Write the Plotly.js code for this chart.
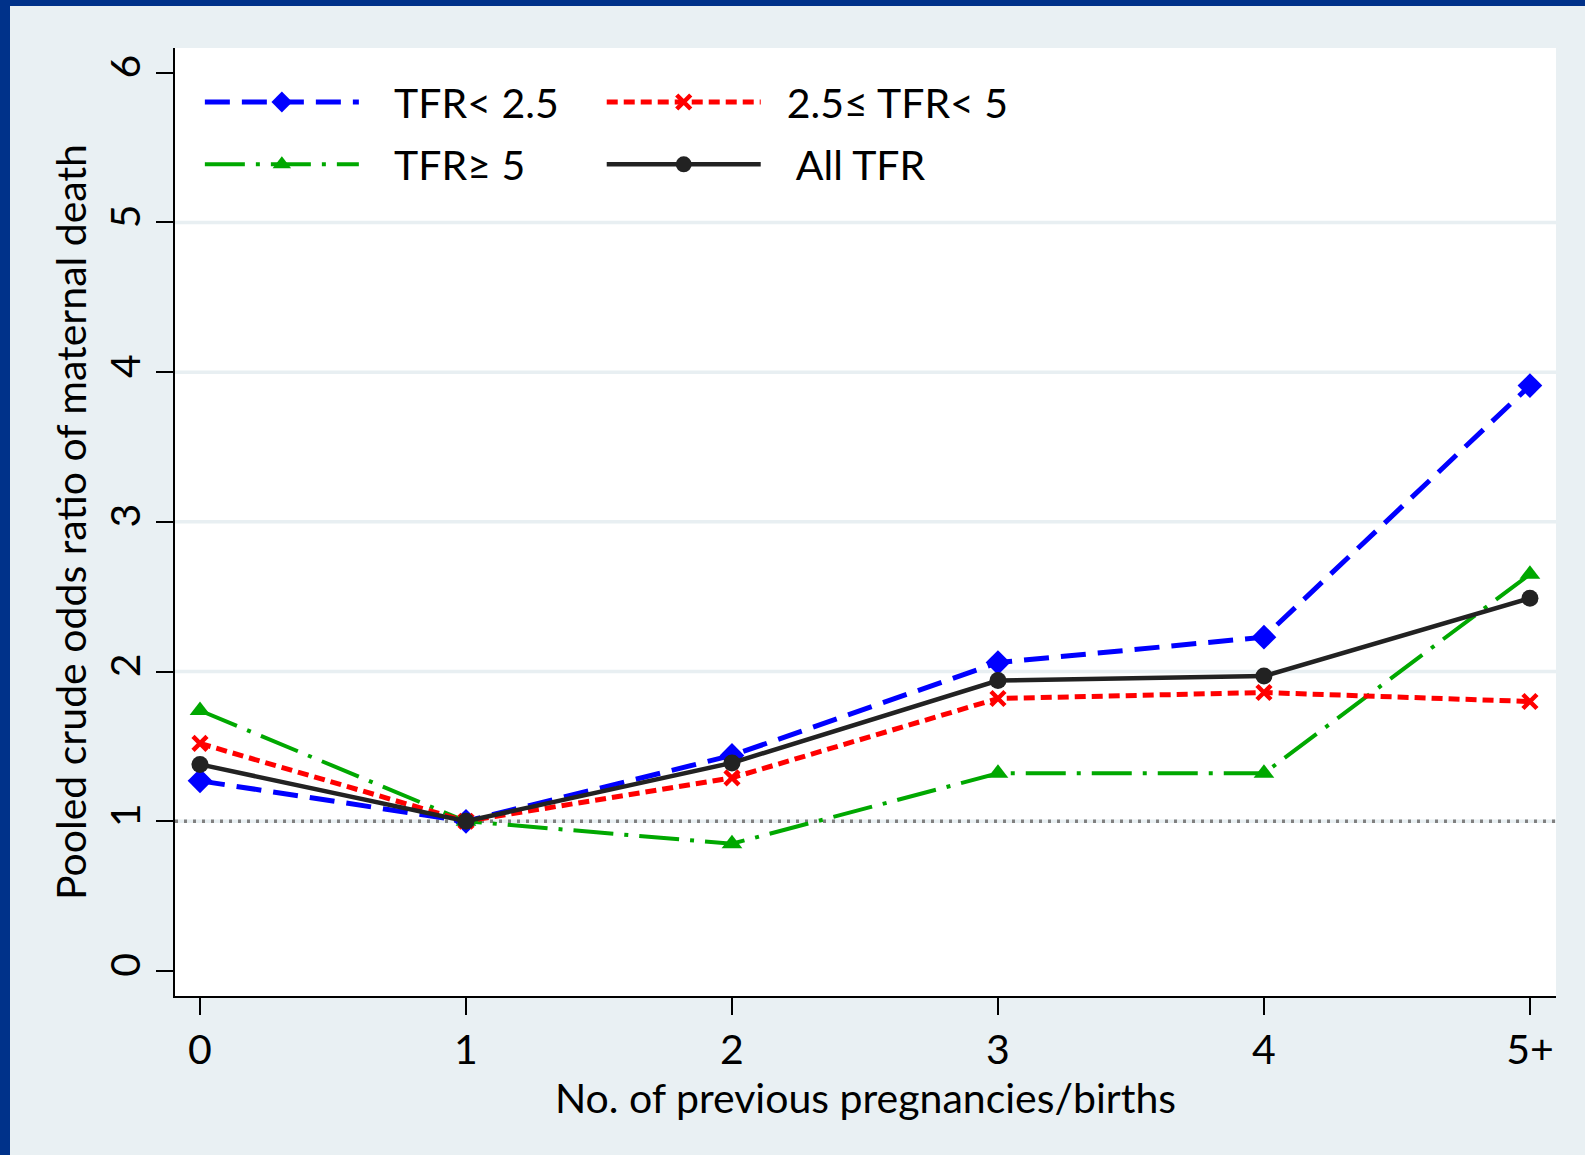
<!DOCTYPE html>
<html>
<head>
<meta charset="utf-8">
<script src="https://cdn.plot.ly/plotly-3.0.1.min.js"></script>
<style>
  html, body { margin: 0; padding: 0; background: #00328a; width: 1585px; height: 1155px; overflow: hidden; }
  #chart { position: absolute; left: 10px; top: 6px; width: 1575px; height: 1149px; }
</style>
</head>
<body>
<div id="chart"></div>
<script>
// ---- data ----
const categories = ["0", "1", "2", "3", "4", "5+"];
const tfrLow = [1.27, 1.00, 1.44, 2.06, 2.23, 3.91];     // TFR< 2.5
const tfrMid = [1.52, 1.00, 1.29, 1.82, 1.86, 1.80];     // 2.5≤ TFR< 5
const tfrHigh = [1.74, 1.00, 0.85, 1.32, 1.32, 2.65];    // TFR≥ 5
const tfrAll = [1.38, 1.00, 1.39, 1.94, 1.97, 2.49];     // All TFR
const seriesNames = ["TFR< 2.5", "2.5\u2264 TFR< 5", "TFR\u2265 5", "All TFR"];
const yTicks = [0, 1, 2, 3, 4, 5, 6];
const gridLevels = [1, 2, 3, 4, 5];
const referenceLevel = 1;
const xTitle = "No. of previous pregnancies/births";
const yTitle = "Pooled crude odds ratio of maternal death";

const xIdx = categories.map((c, i) => i);
const FONT = "Lato, 'Liberation Sans', sans-serif";
const FS = 41;
// non-breaking spaces widen the gap between the legend sample line and its label
const pad = n => "\u00a0".repeat(n);

const traces = [
  { name: pad(3) + seriesNames[0], x: xIdx, y: tfrLow, type: "scatter", mode: "lines+markers",
    line: { color: "#0000ff", width: 5, dash: "25px,12px" },
    marker: { symbol: "diamond", size: 19, color: "#0000ff" },
    legend: "legend", legendgroup: "g1" },
  { name: pad(3) + seriesNames[2], x: xIdx, y: tfrHigh, type: "scatter", mode: "lines+markers",
    line: { color: "#00a800", width: 4, dash: "40px,11px,4px,11px" },
    marker: { symbol: "triangle-up", size: 18, color: "#00a800" },
    legend: "legend", legendgroup: "g2" },
  { name: pad(2) + seriesNames[1], x: xIdx, y: tfrMid, type: "scatter", mode: "lines+markers",
    line: { color: "#ff0000", width: 5, dash: "11px,6px" },
    marker: { symbol: "x-thin", size: 14, color: "#ff0000", line: { color: "#ff0000", width: 4.5 } },
    legend: "legend2", legendgroup: "g3" },
  { name: pad(3) + seriesNames[3], x: xIdx, y: tfrAll, type: "scatter", mode: "lines+markers",
    line: { color: "#222222", width: 4.5 },
    marker: { symbol: "circle", size: 17, color: "#222222" },
    legend: "legend2", legendgroup: "g4" }
];

const shapes = gridLevels.map(v => ({
  type: "line", xref: "paper", x0: 0, x1: 1, yref: "y", y0: v, y1: v,
  line: { color: "#e8eff2", width: 3.5 }, layer: "below"
}));
shapes.push({
  type: "line", xref: "paper", x0: 0, x1: 1, yref: "y", y0: referenceLevel, y1: referenceLevel,
  line: { color: "#808080", width: 3.5, dash: "3px,6px" }, layer: "below"
});

const legendCommon = {
  orientation: "v", xanchor: "left", yanchor: "top",
  bgcolor: "rgba(0,0,0,0)", borderwidth: 0,
  font: { family: FONT, size: FS, color: "#000" },
  itemwidth: 154, tracegroupgap: 6, itemclick: false, itemdoubleclick: false
};

const layout = {
  width: 1575, height: 1149,
  paper_bgcolor: "#e9f0f3", plot_bgcolor: "#ffffff",
  margin: { l: 165, r: 29, t: 42, b: 159 },
  font: { family: FONT, size: FS, color: "#000" },
  showlegend: true,
  legend: Object.assign({}, legendCommon, { x: 0.018, y: 0.978 }),
  legend2: Object.assign({}, legendCommon, { x: 0.309, y: 0.978 }),
  xaxis: {
    range: [-0.094, 5.098], tickvals: xIdx, ticktext: categories,
    showgrid: false, zeroline: false, showline: true, linecolor: "#000", linewidth: 2,
    ticks: "outside", ticklen: 17, tickwidth: 2, tickcolor: "#000",
    ticklabelstandoff: 0,
    tickfont: { family: FONT, size: FS, color: "#000" },
    title: { text: xTitle, font: { family: FONT, size: FS, color: "#000" }, standoff: 0 }
  },
  yaxis: {
    range: [-0.167, 6.165], tickvals: yTicks, ticktext: yTicks.map(String),
    tickangle: -90,
    showgrid: false, zeroline: false, showline: true, linecolor: "#000", linewidth: 2,
    ticks: "outside", ticklen: 17, tickwidth: 2, tickcolor: "#000",
    ticklabelstandoff: 0,
    tickfont: { family: FONT, size: FS, color: "#000" },
    title: { text: yTitle, font: { family: FONT, size: FS, color: "#000" }, standoff: 0 }
  },
  shapes: shapes
};

Plotly.newPlot("chart", traces, layout, { displayModeBar: false, staticPlot: true });
</script>
</body>
</html>
